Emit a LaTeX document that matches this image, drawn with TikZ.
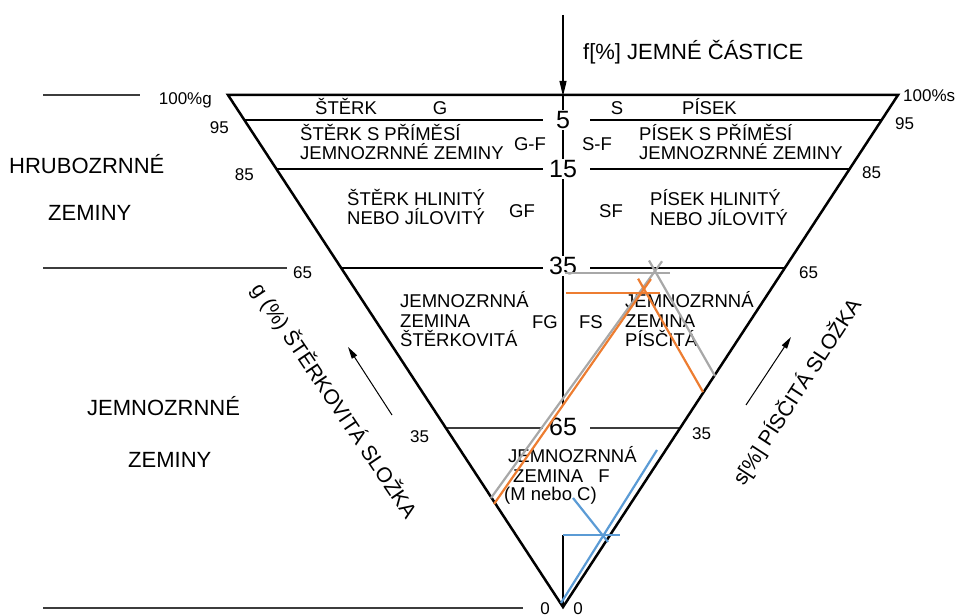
\documentclass[tikz,border=0pt]{standalone}
\usepackage{fontspec}
\setmainfont{Liberation Sans}
\usetikzlibrary{arrows.meta,calc}
\definecolor{lineorange}{RGB}{237,125,49}
\definecolor{linegray}{RGB}{168,168,168}
\definecolor{lineblue}{RGB}{91,155,213}
\definecolor{extgray}{RGB}{60,60,60}
\begin{document}
\begin{tikzpicture}[x=1pt,y=-1pt,
  side/.style={line width=2.5pt,line join=miter},
  lvlthin/.style={line width=1.5pt},
  lvlthick/.style={line width=2.5pt},
  lvlgray/.style={line width=1.2pt,color=extgray},
  extline/.style={line width=1.2pt,color=extgray},
  vline/.style={line width=1.2pt},
  grayln/.style={line width=2.2pt,color=linegray},
  orangeln/.style={line width=2.2pt,color=lineorange},
  blueln/.style={line width=2.2pt,color=lineblue},
  lab/.style={inner sep=0pt,font=\fontsize{18.5}{20}\selectfont},
  big/.style={inner sep=0pt,font=\fontsize{22}{24}\selectfont},
  axislab/.style={inner sep=0pt,font=\fontsize{21}{22}\selectfont},
  tick/.style={inner sep=0pt,font=\fontsize{17}{17}\selectfont},
  num/.style={inner sep=1.5pt,fill=white,font=\fontsize{25}{25}\selectfont},
]
\useasboundingbox (0,0) rectangle (958,615);

% main triangle
\coordinate (A) at (228,95);
\coordinate (B) at (898,95);
\coordinate (C) at (563,607);
\coordinate (gl) at (543,0);
\coordinate (gr) at (590,0);

% level lines
\coordinate (L5) at ($(A)!0.0488!(C)$);  \coordinate (R5) at ($(B)!0.0488!(C)$);
\coordinate (L15) at ($(A)!0.1445!(C)$); \coordinate (R15) at ($(B)!0.1445!(C)$);
\coordinate (L35) at ($(A)!0.3379!(C)$); \coordinate (R35) at ($(B)!0.3379!(C)$);
\coordinate (L65) at ($(A)!0.6504!(C)$); \coordinate (R65) at ($(B)!0.6504!(C)$);

% outside extension lines
\coordinate (e1a) at (43,95);  \coordinate (e1b) at (140,95);
\coordinate (e2a) at (43,268); \coordinate (e2b) at (287,268);
\coordinate (e3a) at (43,608); \coordinate (e3b) at (523,608);
\draw[extline] (e1a) -- (e1b);
\draw[extline] (e2a) -- (e2b);
\draw[extline] (e3a) -- (e3b);

% central vertical axis
\coordinate (vtop) at (563,15);
\coordinate (v0) at (563,96);
\coordinate (v1) at (563,405);
\coordinate (v2) at (563,535);
\draw[vline] (v0) -- (v1);
\draw[vline] (v2) -- (C);
\draw[vline,-{Triangle[length=15pt,width=7pt]}] (vtop) -- (v0);

\draw[lvlthin] (L5) -- (L5 -| gl);   \draw[lvlthin] (R5 -| gr) -- (R5);
\draw[lvlthin] (L15) -- (L15 -| gl); \draw[lvlthin] (R15 -| gr) -- (R15);
\draw[lvlthick] (L35) -- (L35 -| gl); \draw[lvlthick] (R35 -| gr) -- (R35);
\draw[lvlgray] (L65) -- (L65 -| gl); \draw[lvlgray] (R65 -| gr) -- (R65);

\draw[side] (A) -- (B) -- (C) -- cycle;

% level numbers on the axis
\node[num] (n5) at (563,120) {5};
\node[num] (n15) at (563,169) {15};
\node[num] (n35) at (563,266) {35};
\node[num] (n65) at (563,427) {65};

% top label
\node[big,anchor=base west] (ftitle) at (583,60) {f[\%] JEMNÉ ČÁSTICE};

% tick labels left
\node[tick,anchor=base east] (t100g) at (212,105) {100\%g};
\node[tick,anchor=base east] (tl95) at (229,133) {95};
\node[tick,anchor=base east] (tl85) at (254,180) {85};
\node[tick,anchor=base west] (tl65) at (293,278) {65};
\node[tick,anchor=base west] (tl35) at (410,442) {35};
\node[tick,anchor=base] (tl0) at (545,614) {0};
% tick labels right
\node[tick,anchor=base west] (t100s) at (903,102) {100\%s};
\node[tick,anchor=base west] (tr95) at (895,129) {95};
\node[tick,anchor=base west] (tr85) at (862,178) {85};
\node[tick,anchor=base west] (tr65) at (799,278) {65};
\node[tick,anchor=base west] (tr35) at (692,439) {35};
\node[tick,anchor=base] (tr0) at (578,614) {0};

% left group labels
\node[big,anchor=base west] (hr1) at (9,173) {HRUBOZRNNÉ};
\node[big,anchor=base west] (hr2) at (48,220) {ZEMINY};
\node[big,anchor=base west] (jm1) at (87,415) {JEMNOZRNNÉ};
\node[big,anchor=base west] (jm2) at (128,467) {ZEMINY};

% region labels
\node[lab,anchor=base west] (sterk) at (315,115) {ŠTĚRK};
\node[lab,anchor=base] (G) at (440,115) {G};
\node[lab,anchor=base] (S) at (617,115) {S};
\node[lab,anchor=base west] (pisek) at (682,115) {PÍSEK};

\node[lab,anchor=base west] (gfa) at (300,141) {ŠTĚRK S PŘÍMĚSÍ};
\node[lab,anchor=base west] (gfb) at (300,160) {JEMNOZRNNÉ ZEMINY};
\node[lab,anchor=base] (GmF) at (530,150) {G-F};
\node[lab,anchor=base] (SmF) at (597,150) {S-F};
\node[lab,anchor=base west] (sfa) at (639,141) {PÍSEK S PŘÍMĚSÍ};
\node[lab,anchor=base west] (sfb) at (639,160) {JEMNOZRNNÉ ZEMINY};

\node[lab,anchor=base west] (gh1) at (347,205) {ŠTĚRK HLINITÝ};
\node[lab,anchor=base west] (gh2) at (347,224) {NEBO JÍLOVITÝ};
\node[lab,anchor=base] (GF) at (522,217) {GF};
\node[lab,anchor=base] (SF) at (611,217) {SF};
\node[lab,anchor=base west] (sh1) at (650,205) {PÍSEK HLINITÝ};
\node[lab,anchor=base west] (sh2) at (650,225) {NEBO JÍLOVITÝ};

\node[lab,anchor=base west] (fg1) at (400,307) {JEMNOZRNNÁ};
\node[lab,anchor=base west] (fg2) at (400,327) {ZEMINA};
\node[lab,anchor=base west] (fg3) at (400,346) {ŠTĚRKOVITÁ};
\node[lab,anchor=base] (FG) at (545,328) {FG};
\node[lab,anchor=base] (FS) at (591,328) {FS};
\node[lab,anchor=base west] (fs1) at (625,307) {JEMNOZRNNÁ};
\node[lab,anchor=base west] (fs2) at (625,327) {ZEMINA};
\node[lab,anchor=base west] (fs3) at (625,346) {PÍSČITÁ};

\node[lab,anchor=base west] (f1) at (508,462) {JEMNOZRNNÁ};
\node[lab,anchor=base west] (f2) at (513,482) {ZEMINA};
\node[lab,anchor=base] (F) at (604,482) {F};
\node[lab,anchor=base west] (f3) at (504,500) {(M nebo C)};

% axis labels and arrows
\node[axislab,rotate=-56] (gaxis) at (334,401) {g (\%) ŠTĚRKOVITÁ SLOŽKA};
\node[axislab,rotate=57] (saxis) at (797,392) {s[\%] PÍSČITÁ SLOŽKA};
\coordinate (ga1) at (392,415); \coordinate (ga2) at (348,347);
\coordinate (sa1) at (746,405); \coordinate (sa2) at (791,337);
\draw[line width=1pt,-{Triangle[length=12pt,width=6pt]}] (ga1) -- (ga2);
\draw[line width=1pt,-{Triangle[length=12pt,width=6pt]}] (sa1) -- (sa2);

% annotation lines
\coordinate (g1) at (491,498); \coordinate (gx) at (655,271); \coordinate (g2) at (715,376);
\coordinate (gh1c) at (565,273); \coordinate (gh2c) at (670,273);
\draw[grayln] (gh1c) -- (gh2c);
\draw[grayln] (g1) -- ($(g1)!1.043!(gx)$);
\draw[grayln] (g2) -- ($(g2)!1.1!(gx)$);

\coordinate (o1) at (494,504); \coordinate (ox) at (644,289); \coordinate (o2) at (703,392);
\coordinate (oh1) at (566,293); \coordinate (oh2) at (660,293);
\draw[orangeln] (oh1) -- (oh2);
\draw[orangeln] (o1) -- ($(o1)!1.046!(ox)$);
\draw[orangeln] (o2) -- ($(o2)!1.1!(ox)$);

\coordinate (b1) at (561,603); \coordinate (b2) at (657,450);
\coordinate (bh1) at (563,535); \coordinate (bh2) at (620,535);
\coordinate (bd1) at (573,498); \coordinate (bd2) at (608,542);
\draw[blueln] (b1) -- (b2);
\draw[blueln] (bh1) -- (bh2);
\draw[blueln] (bd1) -- (bd2);
\end{tikzpicture}
\end{document}
